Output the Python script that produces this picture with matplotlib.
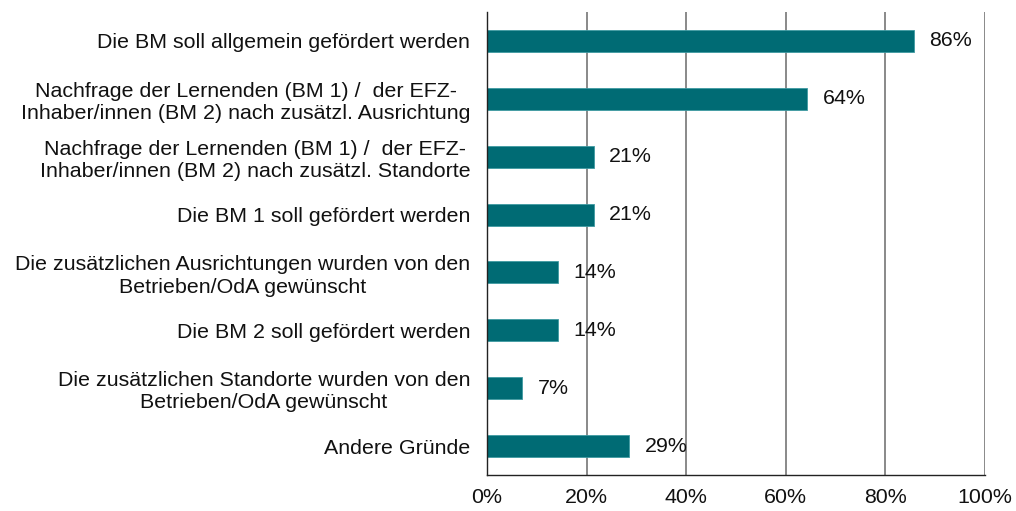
import matplotlib
matplotlib.use("Agg")
import matplotlib.pyplot as plt
from matplotlib.ticker import FuncFormatter

categories = [
    "Die BM soll allgemein gefördert werden",
    "Nachfrage der Lernenden (BM 1) /  der EFZ-\nInhaber/innen (BM 2) nach zusätzl. Ausrichtung",
    "Nachfrage der Lernenden (BM 1) /  der EFZ-\nInhaber/innen (BM 2) nach zusätzl. Standorte",
    "Die BM 1 soll gefördert werden",
    "Die zusätzlichen Ausrichtungen wurden von den\nBetrieben/OdA gewünscht",
    "Die BM 2 soll gefördert werden",
    "Die zusätzlichen Standorte wurden von den\nBetrieben/OdA gewünscht",
    "Andere Gründe",
]
values = [85.7, 64.3, 21.4, 21.4, 14.3, 14.3, 7.1, 28.6]
value_labels = ["86%", "64%", "21%", "21%", "14%", "14%", "7%", "29%"]
xticks = [0, 20, 40, 60, 80, 100]

plt.rcParams['font.family'] = ['Liberation Sans', 'DejaVu Sans']
FS = 15.4

fig = plt.figure(figsize=(10.16, 5.11), dpi=100)
ax = fig.add_axes([487/1016, 36/511, 498/1016, 463/511])

ypos = list(range(len(categories)))
bar_color = "#006B74"
ax.barh(ypos, values, height=0.38, color=bar_color, edgecolor="#3f9aa2", linewidth=0.6, zorder=3)

for y, v, lab in zip(ypos, values, value_labels):
    ax.annotate(lab, (v, y), xytext=(11, 0), textcoords="offset points",
                ha="left", va="center", fontsize=FS, color="#111111", zorder=4)

ax.set_xlim(0, 100)
ax.set_ylim(len(categories) - 0.5, -0.5)
ax.set_xticks(xticks)
ax.xaxis.set_major_formatter(FuncFormatter(lambda v, p: f"{int(v)}%"))
ax.set_yticks(ypos)
ax.set_yticklabels(categories, multialignment="center", linespacing=1.22)
ax.tick_params(axis="y", length=0, pad=12, labelsize=FS, colors="#111111")
ax.tick_params(axis="x", length=0, pad=9, labelsize=FS, colors="#111111")

ax.grid(axis="x", color="#808080", linewidth=1.3, zorder=1)
ax.set_axisbelow(True)
for s in ["top", "right"]:
    ax.spines[s].set_visible(False)
ax.spines["left"].set_color("#222222")
ax.spines["bottom"].set_color("#222222")
ax.spines["left"].set_linewidth(1.0)
ax.spines["bottom"].set_linewidth(1.0)
ax.spines["left"].set_zorder(5)

fig.savefig("out.png", dpi=100, facecolor="white")
